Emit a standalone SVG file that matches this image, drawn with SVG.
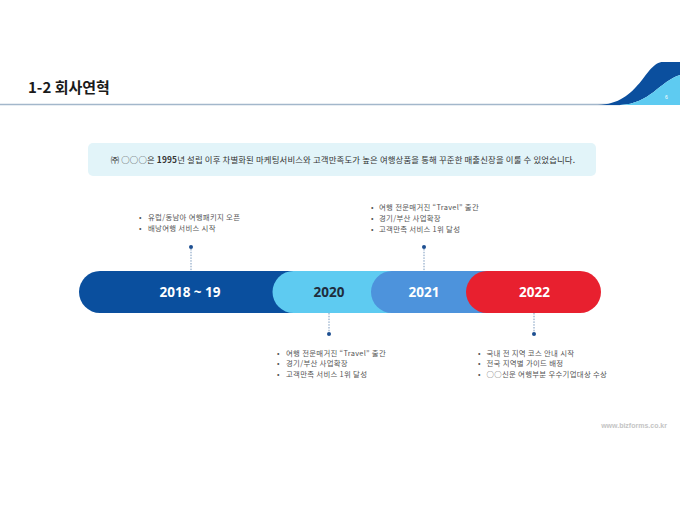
<svg xmlns="http://www.w3.org/2000/svg" width="680" height="510" viewBox="0 0 680 510">
<style>
.kr{font-family:"Noto Sans CJK KR","Noto Sans",sans-serif}
.title{font-size:15px;font-weight:bold;fill:#1a1a1a}
.msg{font-size:8.4px;fill:#333;letter-spacing:0.15px}
.li{font-size:7.4px;fill:#555;letter-spacing:0.3px}
.yr{font-family:"Open Sans","Noto Sans",sans-serif;font-size:13.5px;font-weight:bold;text-anchor:middle}
.conn line{stroke:#6a8db5;stroke-width:0.9;stroke-dasharray:1.5 1.3}
.dot{fill:#1d4f91}
</style>
<rect width="680" height="510" fill="#ffffff"/>
<g id="header">
<line x1="0" y1="104.5" x2="620" y2="104.5" stroke="#a3b7cb" stroke-width="1.5"/>
<path d="M598,105 C640,104 645,62 663,62 L680,62 L680,75 C660,81 650,104 620,105 Z" fill="#0b4f9e"/>
<path d="M620,105 C650,104 660,81 680,75 L680,105 Z" fill="#5ecbf1"/>
<text x="665" y="99" font-family="Liberation Sans,sans-serif" font-size="5" fill="#ffffff">6</text>
<text x="28" y="93" class="kr title">1-2 회사연혁</text>
</g>
<g id="intro">
<rect x="88" y="143" width="508" height="33" rx="5" fill="#e2f4f9"/>
<text x="343" y="163" text-anchor="middle" class="kr msg">㈜ ○○○은 <tspan font-weight="bold">1995</tspan>년 설립 이후 차별화된 마케팅서비스와 고객만족도가 높은 여행상품을 통해 꾸준한 매출신장을 이룰 수 있었습니다.</text>
</g>
<g id="connectors" class="conn">
<line x1="191" y1="249" x2="191" y2="271"/>
<line x1="424" y1="249" x2="424" y2="271"/>
<line x1="329" y1="313" x2="329" y2="332"/>
<line x1="534" y1="313" x2="534" y2="332"/>
<circle class="dot" cx="191" cy="247" r="2"/>
<circle class="dot" cx="424" cy="247" r="2"/>
<circle class="dot" cx="329" cy="334" r="2"/>
<circle class="dot" cx="534" cy="334" r="2"/>
</g>
<g id="y2018">
<rect x="79" y="271" width="241" height="42" rx="21" fill="#0a4f9e"/>
<text x="190" y="297" class="yr" fill="#ffffff">2018 ~ 19</text>
</g>
<g id="y2020">
<rect x="272.5" y="271" width="148" height="42" rx="21" fill="#5ecbf1"/>
<text x="329" y="297" class="yr" fill="#1f2d3d">2020</text>
</g>
<g id="y2021">
<rect x="371" y="271" width="145" height="42" rx="21" fill="#4d93dc"/>
<text x="424" y="297" class="yr" fill="#ffffff">2021</text>
</g>
<g id="y2022">
<rect x="466" y="271" width="135" height="42" rx="21" fill="#e8202f"/>
<text x="534.5" y="297" class="yr" fill="#ffffff">2022</text>
</g>
<g id="note2018" class="kr li">
<text x="139" y="220">•</text><text x="148" y="220">유럽/동남아 여행패키지 오픈</text>
<text x="139" y="231">•</text><text x="148" y="231">배낭여행 서비스 시작</text>
</g>
<g id="note2021" class="kr li">
<text x="371" y="209.5">•</text><text x="379" y="209.5">여행 전문매거진 “Travel” 출간</text>
<text x="371" y="220.5">•</text><text x="379" y="220.5">경기/부산 사업확장</text>
<text x="371" y="231.5">•</text><text x="379" y="231.5">고객만족 서비스 1위 달성</text>
</g>
<g id="note2020" class="kr li">
<text x="277" y="355.5">•</text><text x="286" y="355.5">여행 전문매거진 “Travel” 출간</text>
<text x="277" y="366">•</text><text x="286" y="366">경기/부산 사업확장</text>
<text x="277" y="376.5">•</text><text x="286" y="376.5">고객만족 서비스 1위 달성</text>
</g>
<g id="note2022" class="kr li">
<text x="478" y="355.5">•</text><text x="486.5" y="355.5">국내 전 지역 코스 안내 시작</text>
<text x="478" y="366">•</text><text x="486.5" y="366">전국 지역별 가이드 배정</text>
<text x="478" y="376.5">•</text><text x="486.5" y="376.5">○○신문 여행부분 우수기업대상 수상</text>
</g>
<text x="667" y="428" text-anchor="end" font-family="Liberation Sans,sans-serif" font-size="7" font-weight="bold" fill="#c4c4c4">www.bizforms.co.kr</text>
</svg>
